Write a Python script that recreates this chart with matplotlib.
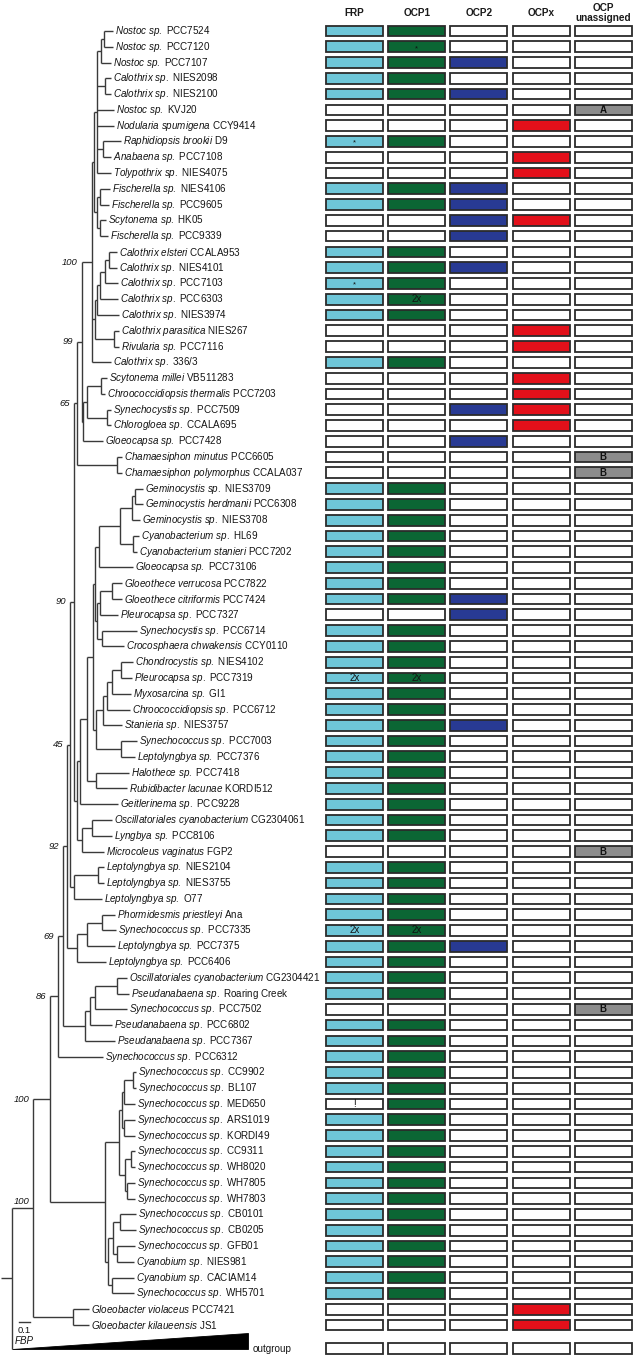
import matplotlib
matplotlib.use("Agg")
import matplotlib.pyplot as plt
from matplotlib.collections import LineCollection
from matplotlib.patches import Rectangle, Polygon

plt.rcParams['font.family'] = 'Liberation Sans'
plt.rcParams['mathtext.fontset'] = 'custom'
plt.rcParams['mathtext.it'] = 'Liberation Sans:italic'
plt.rcParams['mathtext.rm'] = 'Liberation Sans'

# taxa in row order: (italic part, strain)
taxa = [
    ("Nostoc sp.", "PCC7524"), ("Nostoc sp.", "PCC7120"), ("Nostoc sp.", "PCC7107"),
    ("Calothrix sp.", "NIES2098"), ("Calothrix sp.", "NIES2100"), ("Nostoc sp.", "KVJ20"),
    ("Nodularia spumigena", "CCY9414"), ("Raphidiopsis brookii", "D9"), ("Anabaena sp.", "PCC7108"),
    ("Tolypothrix sp.", "NIES4075"), ("Fischerella sp.", "NIES4106"), ("Fischerella sp.", "PCC9605"),
    ("Scytonema sp.", "HK05"), ("Fischerella sp.", "PCC9339"), ("Calothrix elsteri", "CCALA953"),
    ("Calothrix sp.", "NIES4101"), ("Calothrix sp.", "PCC7103"), ("Calothrix sp.", "PCC6303"),
    ("Calothrix sp.", "NIES3974"), ("Calothrix parasitica", "NIES267"), ("Rivularia sp.", "PCC7116"),
    ("Calothrix sp.", "336/3"), ("Scytonema millei", "VB511283"),
    ("Chroococcidiopsis thermalis", "PCC7203"), ("Synechocystis sp.", "PCC7509"),
    ("Chlorogloea sp.", "CCALA695"), ("Gloeocapsa sp.", "PCC7428"),
    ("Chamaesiphon minutus", "PCC6605"), ("Chamaesiphon polymorphus", "CCALA037"),
    ("Geminocystis sp.", "NIES3709"), ("Geminocystis herdmanii", "PCC6308"),
    ("Geminocystis sp.", "NIES3708"), ("Cyanobacterium sp.", "HL69"),
    ("Cyanobacterium stanieri", "PCC7202"), ("Gloeocapsa sp.", "PCC73106"),
    ("Gloeothece verrucosa", "PCC7822"), ("Gloeothece citriformis", "PCC7424"),
    ("Pleurocapsa sp.", "PCC7327"), ("Synechocystis sp.", "PCC6714"),
    ("Crocosphaera chwakensis", "CCY0110"), ("Chondrocystis sp.", "NIES4102"),
    ("Pleurocapsa sp.", "PCC7319"), ("Myxosarcina sp.", "GI1"),
    ("Chroococcidiopsis sp.", "PCC6712"), ("Stanieria sp.", "NIES3757"),
    ("Synechococcus sp.", "PCC7003"), ("Leptolyngbya sp.", "PCC7376"),
    ("Halothece sp.", "PCC7418"), ("Rubidibacter lacunae", "KORDI512"),
    ("Geitlerinema sp.", "PCC9228"), ("Oscillatoriales cyanobacterium", "CG2304061"),
    ("Lyngbya sp.", "PCC8106"), ("Microcoleus vaginatus", "FGP2"),
    ("Leptolyngbya sp.", "NIES2104"), ("Leptolyngbya sp.", "NIES3755"),
    ("Leptolyngbya sp.", "O77"), ("Phormidesmis priestleyi", "Ana"),
    ("Synechococcus sp.", "PCC7335"), ("Leptolyngbya sp.", "PCC7375"),
    ("Leptolyngbya sp.", "PCC6406"), ("Oscillatoriales cyanobacterium", "CG2304421"),
    ("Pseudanabaena sp.", "Roaring Creek"), ("Synechococcus sp.", "PCC7502"),
    ("Pseudanabaena sp.", "PCC6802"), ("Pseudanabaena sp.", "PCC7367"),
    ("Synechococcus sp.", "PCC6312"), ("Synechococcus sp.", "CC9902"),
    ("Synechococcus sp.", "BL107"), ("Synechococcus sp.", "MED650"),
    ("Synechococcus sp.", "ARS1019"), ("Synechococcus sp.", "KORDI49"),
    ("Synechococcus sp.", "CC9311"), ("Synechococcus sp.", "WH8020"),
    ("Synechococcus sp.", "WH7805"), ("Synechococcus sp.", "WH7803"),
    ("Synechococcus sp.", "CB0101"), ("Synechococcus sp.", "CB0205"),
    ("Synechococcus sp.", "GFB01"), ("Cyanobium sp.", "NIES981"),
    ("Cyanobium sp.", "CACIAM14"), ("Synechococcus sp.", "WH5701"),
    ("Gloeobacter violaceus", "PCC7421"), ("Gloeobacter kilaueensis", "JS1"),
]

# FBP tree, branch lengths in substitutions/site, bootstrap values as node labels
newick = """
(((((((((((((((PCC7524:0.077,PCC7120:0.077):0.027,PCC7107:0.086):0.041,
(NIES2098:0.055,NIES2100:0.055):0.073,KVJ20:0.155,CCY9414:0.155,
(D9:0.164,PCC7108:0.073):0.055,NIES4075:0.127):0.027,
((NIES4106:0.091,PCC9605:0.082):0.027,(HK05:0.055,PCC9339:0.073):0.027):0.027):0.018,
(((((CCALA953:0.073,NIES4101:0.073):0.036,PCC7103:0.118):0.045,PCC6303:0.164):0.027,
NIES3974:0.2):0.014,(NIES267:0.045,PCC7116:0.045):0.168):0.032,336/3:0.173)100:0.091,
(((VB511283:0.05,PCC7203:0.032):0.132,(PCC7509:0.036,CCALA695:0.036):0.182):0.036,
PCC7428:0.182):0.009)99:0.045,
(PCC6605:0.045,CCALA037:0.045):0.364)65:0.027,
(((((((((NIES3709:0.073,PCC6308:0.073):0.027,NIES3708:0.073):0.109,
(HL69:0.055,PCC7202:0.036):0.118):0.191,PCC73106:0.309):0.036,
(((PCC7822:0.091,PCC7424:0.091):0.109,PCC7327:0.164):0.027,
(PCC6714:0.318,CCY0110:0.2):0.045):0.018):0.018,
(((((NIES4102:0.109,PCC7319:0.1):0.082,GI1:0.173):0.045,PCC6712:0.209):0.036,
NIES3757:0.173):0.064,(PCC7003:0.145,PCC7376:0.127):0.227):0.027):0.055,
(PCC7418:0.3,KORDI512:0.282):0.082):0.064,PCC9228:0.345):0.027,
((CG2304061:0.182,PCC8106:0.182):0.091,FGP2:0.2):0.045):0.027)90:0.036,
((NIES2104:0.055,NIES3755:0.055):0.218,O77:0.255):0.036)45:0.027,
(((Ana:0.118,PCC7335:0.127):0.136,PCC7375:0.255):0.091,PCC6406:0.264):0.091)92:0.036,
((((CG2304421:0.091,Roaring_Creek:0.109):0.2,PCC7502:0.291):0.045,PCC6802:0.2):0.045,
PCC7367:0.273):0.2)69:0.045,PCC6312:0.409)86:0.073,
(((((CC9902:0.027,BL107:0.027):0.082,MED650:0.1):0.018,(ARS1019:0.1,KORDI49:0.1):0.018):0.027,
((CC9311:0.036,WH8020:0.036):0.055,(WH7805:0.073,WH7803:0.073):0.018):0.055):0.127,
(((CB0101:0.145,CB0205:0.145):0.064,(GFB01:0.164,NIES981:0.155):0.036):0.045,
(CACIAM14:0.2,WH5701:0.2):0.036):0.027):0.5)100:0.155,
(PCC7421:0.145,JS1:0.145):0.364)100:0.191,outgroup:2.145);
"""

# presence per row (same order as taxa)
frp = [1, 1, 1, 1, 1, 0, 0, 1, 0, 0,
       1, 1, 0, 0, 1, 1, 1, 1, 1, 0,
       0, 1, 0, 0, 0, 0, 0, 0, 0, 1,
       1, 1, 1, 1, 1, 1, 1, 0, 1, 1,
       1, 1, 1, 1, 1, 1, 1, 1, 1, 1,
       1, 1, 0, 1, 1, 1, 1, 1, 1, 1,
       1, 1, 0, 1, 1, 1, 1, 1, 0, 1,
       1, 1, 1, 1, 1, 1, 1, 1, 1, 1,
       1, 0, 0]
ocp1 = [1, 1, 1, 1, 1, 0, 0, 1, 0, 0,
        1, 1, 0, 0, 1, 1, 1, 1, 1, 0,
        0, 1, 0, 0, 0, 0, 0, 0, 0, 1,
        1, 1, 1, 1, 1, 1, 1, 0, 1, 1,
        1, 1, 1, 1, 1, 1, 1, 1, 1, 1,
        1, 1, 0, 1, 1, 1, 1, 1, 1, 1,
        1, 1, 0, 1, 1, 1, 1, 1, 1, 1,
        1, 1, 1, 1, 1, 1, 1, 1, 1, 1,
        1, 0, 0]
ocp2 = [0, 0, 1, 0, 1, 0, 0, 0, 0, 0,
        1, 1, 1, 1, 0, 1, 0, 0, 0, 0,
        0, 0, 0, 0, 1, 0, 1, 0, 0, 0,
        0, 0, 0, 0, 0, 0, 1, 1, 0, 0,
        0, 0, 0, 0, 1, 0, 0, 0, 0, 0,
        0, 0, 0, 0, 0, 0, 0, 0, 1, 0,
        0, 0, 0, 0, 0, 0, 0, 0, 0, 0,
        0, 0, 0, 0, 0, 0, 0, 0, 0, 0,
        0, 0, 0]
ocpx = [0, 0, 0, 0, 0, 0, 1, 0, 1, 1,
        0, 0, 1, 0, 0, 0, 0, 0, 0, 1,
        1, 0, 1, 1, 1, 1, 0, 0, 0, 0,
        0, 0, 0, 0, 0, 0, 0, 0, 0, 0,
        0, 0, 0, 0, 0, 0, 0, 0, 0, 0,
        0, 0, 0, 0, 0, 0, 0, 0, 0, 0,
        0, 0, 0, 0, 0, 0, 0, 0, 0, 0,
        0, 0, 0, 0, 0, 0, 0, 0, 0, 0,
        0, 1, 1]
unassigned = {"KVJ20": "A", "PCC6605": "B", "CCALA037": "B", "FGP2": "B", "PCC7502": "B"}
cell_notes = [("PCC7120", 1, "*"), ("D9", 0, "*"), ("PCC7103", 0, "*"), ("PCC6303", 1, "2x"),
              ("PCC7319", 0, "2x"), ("PCC7319", 1, "2x"), ("PCC7335", 0, "2x"),
              ("PCC7335", 1, "2x"), ("MED650", 0, "!")]
columns = ["FRP", "OCP1", "OCP2", "OCPx", "OCP\nunassigned"]
col_colors = ["#6ec6d8", "#0b6634", "#283a93", "#e3101a", "#8c8c8c"]


def parse(s):
    s = "".join(s.split())
    pos = 0

    def node():
        nonlocal pos
        n = {"children": [], "name": "", "len": 0.0}
        if s[pos] == "(":
            pos += 1
            n["children"].append(node())
            while s[pos] == ",":
                pos += 1
                n["children"].append(node())
            pos += 1
        start = pos
        while s[pos] not in ",():;":
            pos += 1
        n["name"] = s[start:pos]
        if s[pos] == ":":
            pos += 1
            start = pos
            while s[pos] not in ",();":
                pos += 1
            n["len"] = float(s[start:pos])
        return n
    return node()


tree = parse(newick)
row_of = {strain.replace(" ", "_"): i for i, (_, strain) in enumerate(taxa)}
row_of["outgroup"] = len(taxa) + 0.5


def place(n, x):
    n["x"] = x
    for c in n["children"]:
        place(c, x + c["len"])
    if n["children"]:
        n["y"] = (n["children"][0]["y"] + n["children"][-1]["y"]) / 2
    else:
        n["y"] = row_of[n["name"]]


place(tree, 0.0)

PX = 1 / 110.0      # one pixel in branch-length units
fig = plt.figure(figsize=(6.33, 13.59), dpi=100)
ax = fig.add_axes([0, 0, 1, 1])
ax.set_xlim(-12 * PX, 621 * PX)
ax.set_ylim(84.16, -1.964)
ax.axis("off")

lc = "#3a3a3a"
tc = "#141414"
segs = [[(-11 * PX, tree["y"]), (0, tree["y"])]]
label_of = {strain.replace(" ", "_"): (gen, strain) for gen, strain in taxa}


def draw(n, parent_x):
    if n["name"] == "outgroup":
        ax.add_patch(Polygon([(parent_x, n["y"]), (n["x"], n["y"]), (n["x"], n["y"] - 1.0)],
                             closed=True, facecolor="black", edgecolor="black", lw=0.6))
        ax.text(n["x"] + 5 * PX, n["y"], "outgroup", fontsize=7.1, va="center", ha="left",
                color=tc)
        return
    if n is not tree:
        segs.append([(parent_x, n["y"]), (n["x"], n["y"])])
    if n["children"]:
        segs.append([(n["x"], n["children"][0]["y"]), (n["x"], n["children"][-1]["y"])])
        for c in n["children"]:
            draw(c, n["x"])
        if n["name"]:
            if parent_x / PX + 12 < 25:
                ax.text(parent_x + 1.5 * PX, n["y"] - 0.45, n["name"], fontsize=6.8,
                        style="italic", ha="left", va="center", color=tc)
            else:
                ax.text(parent_x - 4 * PX, n["y"], n["name"], fontsize=6.8,
                        style="italic", ha="right", va="center", color=tc)
    else:
        gen, strain = label_of[n["name"]]
        txt = r"$\mathit{" + gen.replace(" ", r"\ ") + "}$ " + strain
        ax.text(n["x"] + 2 * PX, n["y"], txt, fontsize=7.1, ha="left", va="center", color=tc)


draw(tree, 0.0)
ax.add_collection(LineCollection(segs, colors=lc, linewidths=1.0))

# scale bar and FBP tag
ax.plot([0.064, 0.164], [81.8, 81.8], color=lc, lw=1.0)
ax.text(0.114, 82.35, "0.1", fontsize=6.8, ha="center", va="center", color=tc)
ax.text(0.027, 83.05, "FBP", fontsize=7.0, style="italic", ha="left", va="center", color=tc)

# presence/absence grid
gx = fig.add_axes([320 / 633, 0, 313 / 633, 1])
gx.set_xlim(-0.558, 4.478)
gx.set_ylim(84.16, -1.964)
gx.axis("off")
gx.patch.set_alpha(0)

bw, bh = 0.917, 0.68
presence = [frp, ocp1, ocp2, ocpx]
for i, (_, strain) in enumerate(taxa):
    key = strain.replace(" ", "_")
    for j in range(5):
        if j < 4:
            fc = col_colors[j] if presence[j][i] else "white"
        else:
            fc = col_colors[4] if key in unassigned else "white"
        gx.add_patch(Rectangle((j - bw / 2, i - bh / 2), bw, bh, facecolor=fc,
                               edgecolor="#2b2b2b", lw=1.3))
    if key in unassigned:
        gx.text(4, i, unassigned[key], fontsize=7, fontweight="bold", ha="center",
                va="center", color="#111111")
for j in range(5):
    gx.add_patch(Rectangle((j - bw / 2, row_of["outgroup"] - bh / 2), bw, bh,
                           facecolor="white", edgecolor="#2b2b2b", lw=1.3))

for strain, j, note in cell_notes:
    i = row_of[strain]
    if note == "*":
        gx.text(j, i + 0.12, note, fontsize=5.5, ha="center", va="center", color="#111111")
    else:
        gx.text(j, i, note, fontsize=7, ha="center", va="center", color="#111111")

for j, name in enumerate(columns):
    gx.text(j, -1.15, name, fontsize=7.2, fontweight="bold", ha="center", va="center",
            linespacing=1.05, color="#1a1a1a")

fig.savefig("out.png", dpi=100)
